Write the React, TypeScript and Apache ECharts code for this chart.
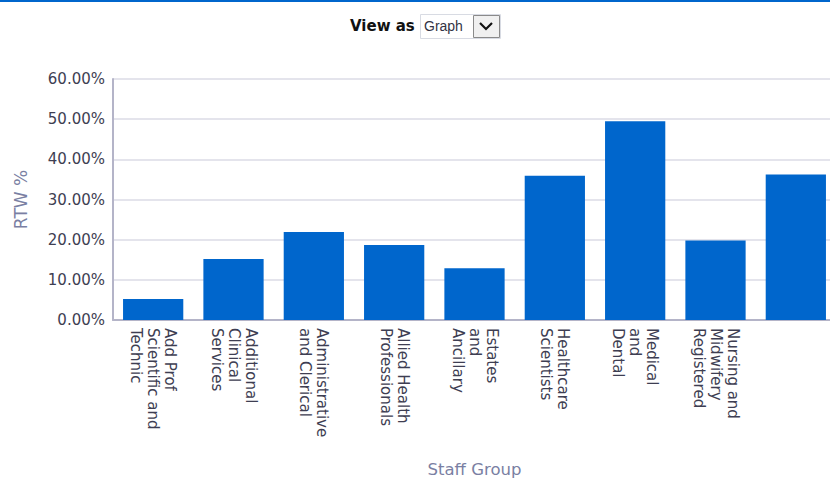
import React, { useEffect, useRef } from "react";
import * as echarts from "echarts";

const categories = [
  "Add Prof\nScientific and\nTechnic",
  "Additional\nClinical\nServices",
  "Administrative\nand Clerical",
  "Allied Health\nProfessionals",
  "Estates\nand\nAncillary",
  "Healthcare\nScientists",
  "Medical\nand\nDental",
  "Nursing and\nMidwifery\nRegistered",
  "",
];
const rtwValues = [5.2, 15.2, 21.9, 18.7, 12.9, 35.9, 49.5, 19.8, 36.2];
const yMin = 0;
const yMax = 60;
const yInterval = 10;

const FONT = "DejaVu Sans";

export default function App() {
  const ref = useRef<HTMLDivElement>(null);
  useEffect(() => {
    if (!ref.current) return;
    const chart = echarts.init(ref.current, undefined, { renderer: "svg" });
    chart.setOption({
      animation: false,
      backgroundColor: "#ffffff",
      grid: { left: 113, top: 79, bottom: 159, right: 4, containLabel: false, outerBoundsMode: "none" },
      xAxis: {
        type: "category",
        data: categories,
        name: "Staff Group",
        nameLocation: "middle",
        nameGap: 141,
        nameTextStyle: { color: "#7a7fa3", fontSize: 16.5, fontFamily: FONT },
        axisLine: { show: true, lineStyle: { color: "#b4b4c8", width: 2 } },
        axisTick: { show: false },
        axisLabel: {
          rotate: -90,
          interval: 0,
          margin: 8,
          color: "#3e3e52",
          fontSize: 15,
          lineHeight: 17,
          fontFamily: FONT,
        },
      },
      yAxis: {
        type: "value",
        min: yMin,
        max: yMax,
        interval: yInterval,
        name: "RTW %",
        nameLocation: "middle",
        nameRotate: 90,
        nameGap: 84,
        nameTextStyle: { color: "#7a7fa3", fontSize: 17, fontFamily: FONT },
        axisLine: { show: true, lineStyle: { color: "#b4b4c8", width: 2 } },
        axisTick: { show: false },
        axisLabel: {
          margin: 8,
          color: "#3e3e52",
          fontSize: 15,
          fontFamily: FONT,
          formatter: (v: number) => v.toFixed(2) + "%",
        },
        splitLine: { show: true, lineStyle: { color: "#e4e4ec", width: 2 } },
      },
      series: [
        {
          type: "bar",
          data: rtwValues,
          barCategoryGap: "25%",
          itemStyle: { color: "#0066cc" },
        },
      ],
      graphic: [
        { type: "rect", left: 0, top: 0, shape: { width: 840, height: 2 }, style: { fill: "#0066cc" } },
        {
          type: "text",
          left: 350,
          top: 18,
          style: { text: "View as", fontSize: 15, fontWeight: "bold", fontFamily: FONT, fill: "#111111" },
        },
        {
          type: "rect",
          left: 420,
          top: 14,
          shape: { width: 80, height: 24 },
          style: { fill: "#ffffff", stroke: "#d8dbe3", lineWidth: 1 },
        },
        {
          type: "text",
          left: 424,
          top: 19,
          style: { text: "Graph", fontSize: 14, fontFamily: "Liberation Sans", fill: "#333344" },
        },
        {
          type: "rect",
          left: 473,
          top: 15,
          shape: { width: 26, height: 22 },
          style: { fill: "#f0f0f0", stroke: "#8a8a8a", lineWidth: 1 },
        },
        {
          type: "polyline",
          shape: { points: [[480, 23], [486, 29], [492, 23]] },
          style: { stroke: "#111111", lineWidth: 2.2, fill: null },
        },
      ],
    });
    return () => chart.dispose();
  }, []);
  return (
    <div style={{ position: "fixed", left: 0, top: 0, width: 830, height: 479, overflow: "hidden", background: "#fff" }}>
      <div ref={ref} style={{ width: 840, height: 479 }} />
    </div>
  );
}
